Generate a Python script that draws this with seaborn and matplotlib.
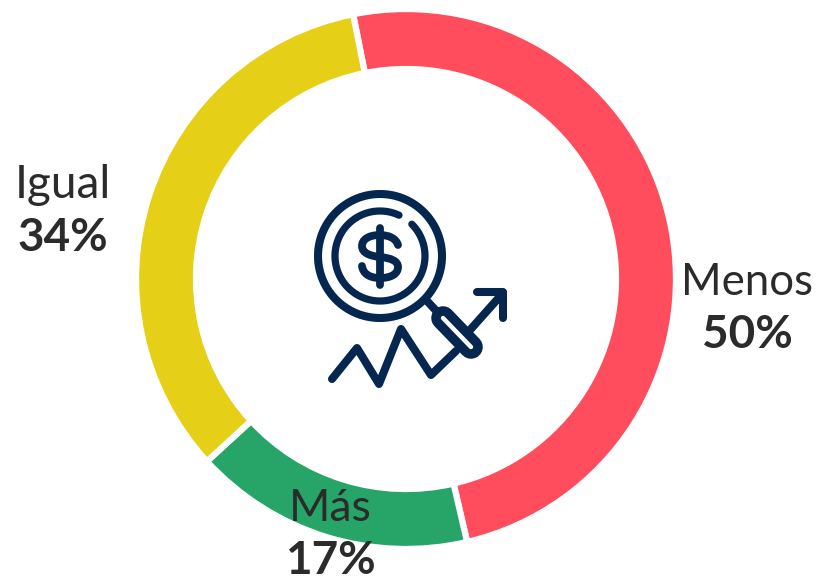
import numpy as np
import matplotlib.pyplot as plt
import seaborn as sns
from matplotlib.path import Path
from matplotlib.patches import PathPatch

sns.set_theme(style='white')
plt.rcParams['font.family'] = ['Lato', 'DejaVu Sans']

# data
labels = ['Menos', 'Más', 'Igual']
values = [50, 17, 34]
colors = ['#FF4D5E', '#27A468', '#E6CF17']

W, H = 817, 579
fig = plt.figure(figsize=(W / 100, H / 100), dpi=100)
ax = fig.add_axes([0, 0, 1, 1])

# donut (y axis is flipped below, so angles run the other way)
cx, cy, r_out, ring = 406, 279, 270, 60
plt.pie(values, colors=colors, startangle=-101.3, counterclock=True,
        center=(cx, cy), radius=r_out, frame=False,
        wedgeprops=dict(width=ring, edgecolor='white', linewidth=4.5))
ax.set_xlim(0, W)
ax.set_ylim(H, 0)
ax.set_aspect('equal')
ax.axis('off')

# labels
txt = '#2b2b2b'
label_pos = {'Menos': (747, 295), 'Más': (330, 521), 'Igual': (63, 198)}
label_size = {'Menos': 31.5, 'Más': 32, 'Igual': 33}
for name, val in zip(labels, values):
    x, y = label_pos[name]
    ax.text(x, y, name, fontsize=label_size[name], fontweight='normal', color=txt, ha='center', va='baseline')
    ax.text(x, y + 53, f'{val}%', fontsize=33, fontweight='bold', color=txt, ha='center', va='baseline')

# icon
navy = '#04264F'
lw = 5.8


def stroke(xs, ys, width=lw, color=navy):
    ax.plot(xs, ys, color=color, lw=width, solid_capstyle='round', solid_joinstyle='round')


def arc(x0, y0, r, a0, a1, width=lw):
    t = np.radians(np.linspace(a0, a1, 120))
    stroke(x0 + r * np.cos(t), y0 - r * np.sin(t), width)


arc(380, 256, 62, 0, 360)
arc(380, 256, 45, 65, 405, width=5.2)

# dollar sign
s_path = Path([(398, 245), (396, 238), (388, 235), (380, 235),
               (368, 235), (362, 240), (362, 246),
               (362, 253), (370, 256), (380, 257),
               (391, 258), (398, 261), (398, 267),
               (398, 274), (391, 278), (380, 278),
               (370, 278), (363, 274), (362, 266)],
              [Path.MOVETO] + [Path.CURVE4] * 18)
ax.add_patch(PathPatch(s_path, fc='none', ec=navy, lw=5.6, capstyle='round'))
stroke([380, 380], [228, 285], width=5.6)

# trend line and arrow
stroke([332, 357, 379, 401, 431, 456], [379, 348, 384, 329, 375, 351])
stroke([470, 503], [330, 293])
stroke([477, 503, 503], [292, 292, 318])

# magnifier handle
stroke([428, 441], [302, 316])
stroke([443, 471], [318, 347], width=17)
stroke([443, 471], [318, 347], width=3.2, color='white')

fig.savefig('out.png', dpi=100)
